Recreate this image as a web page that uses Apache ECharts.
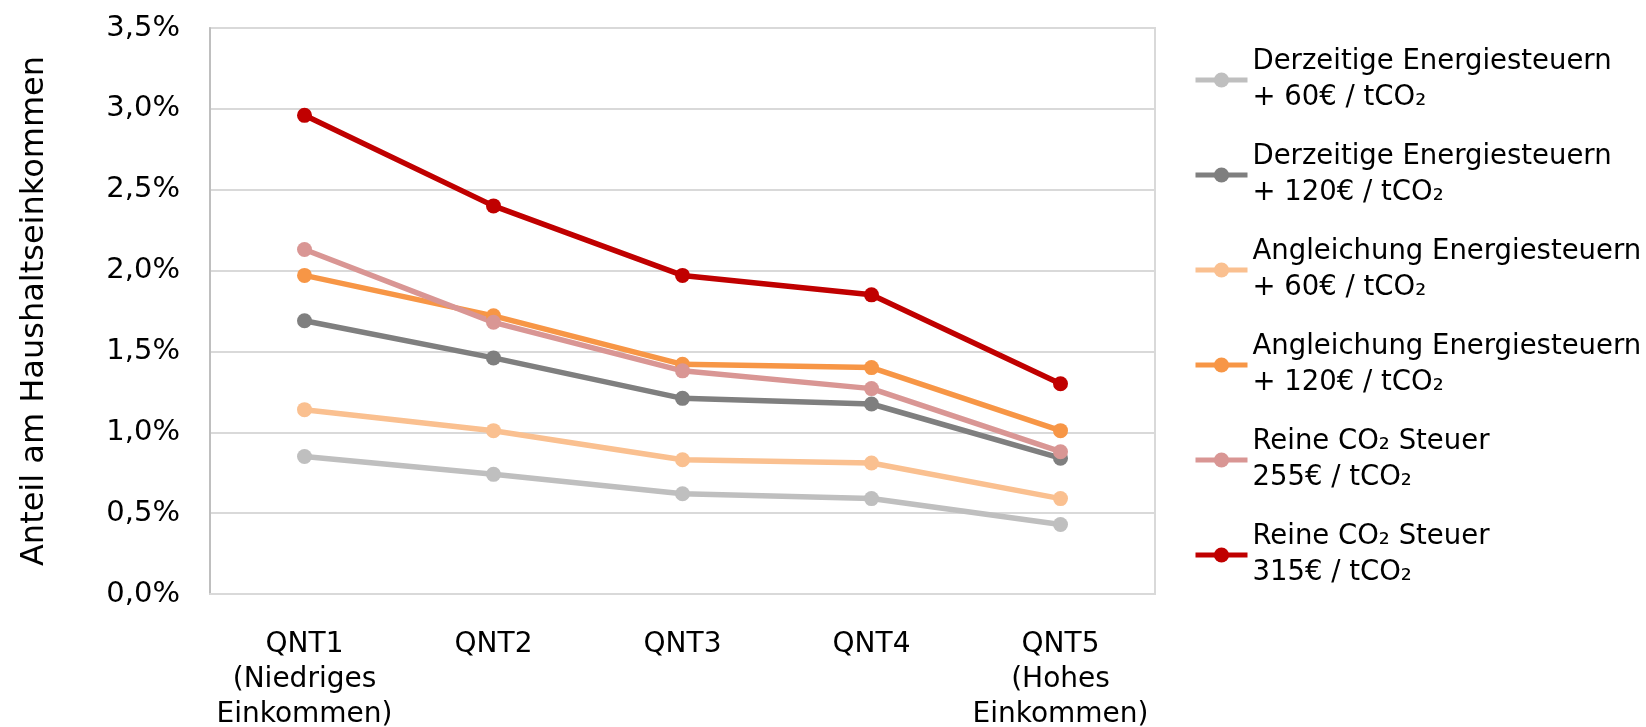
<!DOCTYPE html>
<html>
<head>
<meta charset="utf-8">
<script src="https://cdn.jsdelivr.net/npm/echarts@6/dist/echarts.min.js"></script>
<style>
  html, body { margin: 0; padding: 0; background: #fff; }
  #chart { width: 1646px; height: 727px; }
</style>
</head>
<body>
<div id="chart"></div>
<script>
// Kategorien (Einkommensquintile)
const categories = ['QNT1\n(Niedriges\nEinkommen)', 'QNT2', 'QNT3', 'QNT4', 'QNT5\n(Hohes\nEinkommen)']

// Anteil am Haushaltseinkommen in %
const derzeitig60 = [0.85, 0.74, 0.62, 0.59, 0.43]
const derzeitig120 = [1.69, 1.46, 1.21, 1.175, 0.84]
const angleichung60 = [1.14, 1.01, 0.83, 0.81, 0.59]
const angleichung120 = [1.97, 1.72, 1.42, 1.40, 1.01]
const reinCO2_255 = [2.13, 1.68, 1.38, 1.27, 0.88]
const reinCO2_315 = [2.96, 2.40, 1.97, 1.85, 1.30]

const seriesDefs = [
  { name: 'Derzeitige Energiesteuern\n+ 60€ / tCO₂', color: '#BFBFBF', data: derzeitig60 },
  { name: 'Derzeitige Energiesteuern\n+ 120€ / tCO₂', color: '#7F7F7F', data: derzeitig120 },
  { name: 'Angleichung Energiesteuern\n+ 60€ / tCO₂', color: '#FAC090', data: angleichung60 },
  { name: 'Angleichung Energiesteuern\n+ 120€ / tCO₂', color: '#F79646', data: angleichung120 },
  { name: 'Reine CO₂ Steuer\n255€ / tCO₂', color: '#D99694', data: reinCO2_255 },
  { name: 'Reine CO₂ Steuer\n315€ / tCO₂', color: '#C00000', data: reinCO2_315 },
]

const chart = echarts.init(document.getElementById('chart'))

const option = {
  animation: false,
  textStyle: { fontFamily: 'DejaVu Sans' },
  grid: {
    left: 210,
    right: 491,
    top: 28,
    bottom: 133,
    outerBoundsMode: 'none',
    show: true,
    borderColor: '#D9D9D9',
    borderWidth: 2,
  },
  legend: {
    orient: 'vertical',
    left: 1188,
    top: 21,
    itemWidth: 52,
    itemHeight: 19,
    itemGap: -13,
    data: seriesDefs.map(s => s.name),
    lineStyle: { width: 5 },
    textStyle: {
      fontFamily: 'DejaVu Sans',
      fontSize: 27.5,
      lineHeight: 36,
      color: '#000',
      padding: [36, 0, 0, 0],
    },
  },
  xAxis: {
    type: 'category',
    data: categories,
    boundaryGap: true,
    axisLine: { lineStyle: { color: '#D9D9D9', width: 2 } },
    axisTick: { show: false },
    axisLabel: {
      color: '#000',
      fontFamily: 'DejaVu Sans',
      fontSize: 28,
      lineHeight: 35,
      margin: 33,
      interval: 0,
    },
  },
  yAxis: {
    type: 'value',
    min: 0,
    max: 3.5,
    interval: 0.5,
    name: 'Anteil am Haushaltseinkommen',
    nameLocation: 'middle',
    nameGap: 159,
    nameRotate: 90,
    nameTextStyle: {
      color: '#000',
      fontFamily: 'DejaVu Sans',
      fontSize: 32,
    },
    axisLine: { show: true, lineStyle: { color: '#BFBFBF', width: 2 } },
    axisTick: { show: false },
    splitLine: { lineStyle: { color: '#D9D9D9', width: 2 } },
    axisLabel: {
      color: '#000',
      fontFamily: 'DejaVu Sans',
      fontSize: 29,
      margin: 30,
      formatter: v => v.toFixed(1).replace('.', ',') + '%',
    },
  },
  series: seriesDefs.map(s => ({
    name: s.name,
    type: 'line',
    data: s.data,
    symbol: 'circle',
    symbolSize: 15,
    lineStyle: { color: s.color, width: 5.5 },
    itemStyle: { color: s.color },
  })),
}

chart.setOption(option)
</script>
</body>
</html>
